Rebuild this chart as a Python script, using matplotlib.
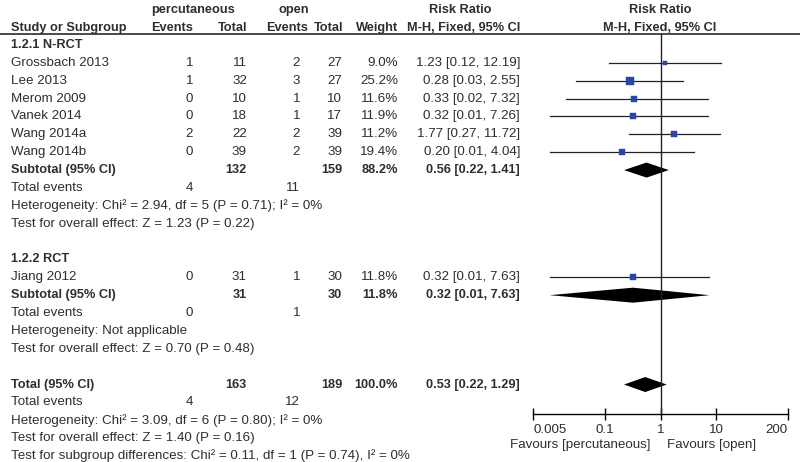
import matplotlib.pyplot as plt
import numpy as np

plt.rcParams['font.family'] = ['Liberation Sans', 'DejaVu Sans']

# study level data
studies = ['Grossbach 2013', 'Lee 2013', 'Merom 2009', 'Vanek 2014', 'Wang 2014a', 'Wang 2014b', 'Jiang 2012']
study_group = [0, 0, 0, 0, 0, 0, 1]
perc_events = [1, 1, 0, 0, 2, 0, 0]
perc_total = [11, 32, 10, 18, 22, 39, 31]
open_events = [2, 3, 1, 1, 2, 2, 1]
open_total = [27, 27, 10, 17, 39, 39, 30]
weight = [9.0, 25.2, 11.6, 11.9, 11.2, 19.4, 11.8]
rr = [1.23, 0.28, 0.33, 0.32, 1.77, 0.20, 0.32]
ci_lo = [0.12, 0.03, 0.02, 0.01, 0.27, 0.01, 0.01]
ci_hi = [12.19, 2.55, 7.32, 7.26, 11.72, 4.04, 7.63]

# pooled rows: subgroup 1, subgroup 2, overall
group_names = ['1.2.1 N-RCT', '1.2.2 RCT']
pooled_labels = ['Subtotal (95% CI)', 'Subtotal (95% CI)', 'Total (95% CI)']
pooled_perc_total = [132, 31, 163]
pooled_open_total = [159, 30, 189]
pooled_weight = [88.2, 11.8, 100.0]
pooled_perc_events = [4, 0, 4]
pooled_open_events = [11, 1, 12]
pooled_rr = [0.56, 0.32, 0.53]
pooled_lo = [0.22, 0.01, 0.22]
pooled_hi = [1.41, 7.63, 1.29]
heterogeneity = ['Heterogeneity: Chi\u00b2 = 2.94, df = 5 (P = 0.71); I\u00b2 = 0%',
                 'Heterogeneity: Not applicable',
                 'Heterogeneity: Chi\u00b2 = 3.09, df = 6 (P = 0.80); I\u00b2 = 0%']
overall_effect = ['Test for overall effect: Z = 1.23 (P = 0.22)',
                  'Test for overall effect: Z = 0.70 (P = 0.48)',
                  'Test for overall effect: Z = 1.40 (P = 0.16)']
subgroup_test = 'Test for subgroup differences: Chi\u00b2 = 0.11, df = 1 (P = 0.74), I\u00b2 = 0%'
axis_ticks = [0.005, 0.1, 1, 10, 200]
axis_ticklabels = ['0.005', '0.1', '1', '10', '200']

FS = 9.6
FSB = 9.2
TXT = '#2e2e2e'
BLUE = '#2a45a5'

# column positions (pixels of the 800 px wide figure)
X_LABEL, X_PE, X_PT, X_OE, X_OT, X_W, X_RR = 11, 193, 247, 300, 342, 398, 520

fig = plt.figure(figsize=(8, 4.62), dpi=100)
fig.patch.set_facecolor('white')
ylim = (23.335, -2.518)

ax = fig.add_axes([0, 0, 1, 1])
ax.set_xlim(0, 800)
ax.set_ylim(*ylim)
ax.axis('off')

axf = fig.add_axes([533 / 800, 0, 255 / 800, 1])
axf.patch.set_alpha(0)
axf.set_xscale('log')
axf.set_xlim(0.005, 200)
axf.set_ylim(*ylim)
for s in ['left', 'right', 'top']:
    axf.spines[s].set_visible(False)
axf.spines['bottom'].set_position(('data', 20.65))
axf.spines['bottom'].set_linewidth(1.0)
axf.set_yticks([])
axf.set_xticks(axis_ticks)
axf.set_xticklabels(axis_ticklabels, fontsize=FS, color=TXT)
axf.xaxis.set_minor_locator(plt.NullLocator())
axf.tick_params(axis='x', direction='inout', length=8, width=1, pad=3)
tl = axf.get_xticklabels()
tl[0].set_ha('left')
tl[-1].set_ha('right')


def txt(x, y, s, ha='right', bold=False):
    ax.text(x, y, s, ha=ha, va='center', fontsize=FSB if bold else FS, color=TXT,
            fontweight='bold' if bold else 'normal')


# header
txt(193, -1.96, 'percutaneous', ha='center', bold=True)
txt(294, -1.96, 'open', ha='center', bold=True)
txt(460, -1.96, 'Risk Ratio', ha='center', bold=True)
txt(660, -1.96, 'Risk Ratio', ha='center', bold=True)
txt(X_LABEL, -0.95, 'Study or Subgroup', ha='left', bold=True)
txt(X_PE, -0.95, 'Events', bold=True)
txt(X_PT, -0.95, 'Total', bold=True)
txt(308, -0.95, 'Events', bold=True)
txt(X_OT + 1, -0.95, 'Total', bold=True)
txt(X_W, -0.95, 'Weight', bold=True)
txt(X_RR, -0.95, 'M-H, Fixed, 95% CI', bold=True)
txt(660, -0.95, 'M-H, Fixed, 95% CI', ha='center', bold=True)
ax.axhline(-0.62, color='#4a4a4a', lw=1.4)
axf.plot([1, 1], [-0.62, 20.65], color='#222222', lw=1.0)


def pooled_block(j, row):
    txt(X_LABEL, row, pooled_labels[j], ha='left', bold=True)
    txt(X_PT, row, str(pooled_perc_total[j]), bold=True)
    txt(X_OT, row, str(pooled_open_total[j]), bold=True)
    txt(X_W, row, '%.1f%%' % pooled_weight[j], bold=True)
    txt(X_RR, row, '%.2f [%.2f, %.2f]' % (pooled_rr[j], pooled_lo[j], pooled_hi[j]), bold=True)
    h = 0.42
    axf.fill([pooled_lo[j], pooled_rr[j], pooled_hi[j], pooled_rr[j]],
             [row, row - h, row, row + h], color='black', lw=0, clip_on=False)
    txt(X_LABEL, row + 1, 'Total events', ha='left')
    txt(X_PE, row + 1, str(pooled_perc_events[j]))
    txt(X_OE, row + 1, str(pooled_open_events[j]))
    txt(X_LABEL, row + 2, heterogeneity[j], ha='left')
    txt(X_LABEL, row + 3, overall_effect[j], ha='left')


row = 0
for g in range(2):
    txt(X_LABEL, row, group_names[g], ha='left', bold=True)
    row += 1
    for i in range(len(studies)):
        if study_group[i] != g:
            continue
        txt(X_LABEL, row, studies[i], ha='left')
        txt(X_PE, row, str(perc_events[i]))
        txt(X_PT, row, str(perc_total[i]))
        txt(X_OE, row, str(open_events[i]))
        txt(X_OT, row, str(open_total[i]))
        txt(X_W, row, '%.1f%%' % weight[i])
        txt(X_RR, row, '%.2f [%.2f, %.2f]' % (rr[i], ci_lo[i], ci_hi[i]))
        axf.plot([ci_lo[i], ci_hi[i]], [row, row], color='#222222', lw=0.9, clip_on=False)
        side = 1.55 * np.sqrt(weight[i]) * 0.72
        axf.plot(rr[i], row, marker='s', ms=side, color=BLUE, mec=BLUE, mew=0.3, clip_on=False)
        row += 1
    pooled_block(g, row)
    row += 5

pooled_block(2, row)
txt(X_LABEL, row + 4, subgroup_test, ha='left')

# favours labels under the axis
txt(650, 22.38, 'Favours [percutaneous]')
txt(667, 22.38, 'Favours [open]', ha='left')

fig.savefig('out.png', dpi=100, facecolor='white')
